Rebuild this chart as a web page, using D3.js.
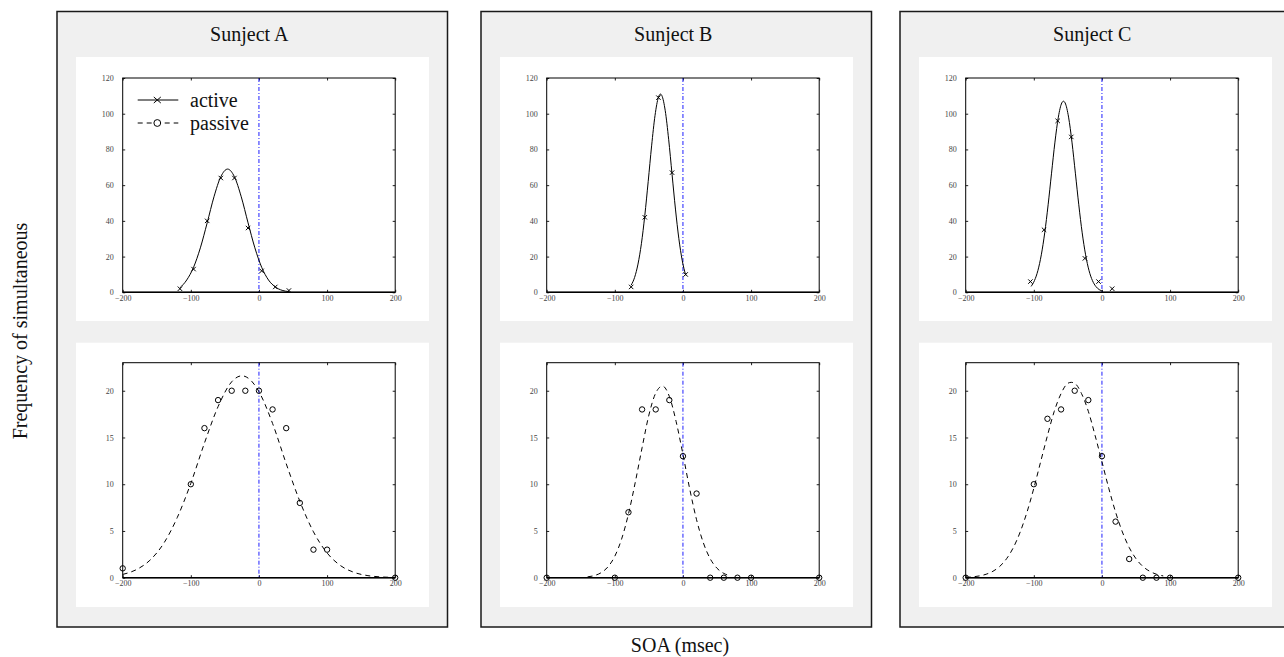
<!DOCTYPE html>
<html>
<head>
<meta charset="utf-8">
<script src="https://cdn.jsdelivr.net/npm/d3@7"></script>
<style>
  body { margin: 0; background: #fff; }
  svg text { font-family: "Liberation Serif", "Times New Roman", serif; }
</style>
</head>
<body>
<svg id="chart" width="1284" height="657"></svg>
<script>
var subjects = ['Sunject A', 'Sunject B', 'Sunject C'];
var soaTicks = [-200, -100, 0, 100, 200];
var activeTicks = [0, 20, 40, 60, 80, 100, 120];
var passiveTicks = [0, 5, 10, 15, 20];

// active condition, measured points (x marks)
var activeSoaA = [-116, -96, -76, -56, -36, -16, 4, 24, 44];
var activeFreqA = [2, 13, 40, 64, 64, 36, 12, 3, 1];
var activeSoaB = [-76, -56, -36, -16, 4];
var activeFreqB = [3, 42, 109, 67, 10];
var activeSoaC = [-105, -85, -65, -45, -25, -5, 15];
var activeFreqC = [6, 35, 96, 87, 19, 6, 2];

// active condition, fitted curve
var activeFitXA = [-116, -106, -96, -86, -76, -66, -56, -46, -36, -26, -16, -6, 4, 14, 24, 34, 44];
var activeFitYA = [2.5, 6.9, 14.0, 24.9, 38.9, 53.5, 64.7, 69, 64.7, 53.5, 38.9, 24.9, 14.0, 6.9, 3.0, 1.1, 0.4];
var activeFitXB = [-76, -71, -66, -61, -56, -51, -46, -41, -36, -33, -31, -26, -21, -16, -11, -6, -1, 4];
var activeFitYB = [4.0, 8.3, 15.8, 27.2, 43.0, 62.1, 82.0, 99.0, 109.2, 111, 110.2, 101.7, 85.7, 66.1, 46.6, 30.0, 17.7, 9.6];
var activeFitXC = [-104, -99, -94, -89, -84, -79, -74, -69, -64, -59, -56.5, -54, -49, -44, -39, -34, -29, -24, -19, -14, -9, -4, 1];
var activeFitYC = [3.3, 6.6, 12.2, 21.0, 33.3, 49.0, 66.7, 84.1, 98.1, 106.0, 107, 106.0, 98.1, 84.1, 66.7, 49.0, 33.3, 21.0, 12.2, 6.6, 3.3, 1.5, 0.65];

// passive condition, measured points (circles)
var passiveSoa = [-200, -100, -80, -60, -40, -20, 0, 20, 40, 60, 80, 100, 200];
var passiveFreqA = [1, 10, 16, 19, 20, 20, 20, 18, 16, 8, 3, 3, 0];
var passiveFreqB = [0, 0, 7, 18, 18, 19, 13, 9, 0, 0, 0, 0, 0];
var passiveFreqC = [0, 10, 17, 18, 20, 19, 13, 6, 2, 0, 0, 0, 0];

// passive condition, fitted curve
var passiveFitXA = [-200, -180, -160, -140, -120, -100, -80, -60, -40, -25, -10, 0, 20, 40, 60, 80, 100, 120, 140, 160, 180, 200];
var passiveFitYA = [0.35, 0.86, 1.87, 3.65, 6.42, 10.1, 14.4, 18.3, 20.96, 21.6, 20.96, 19.9, 16.5, 12.2, 8.18, 4.91, 2.65, 1.28, 0.56, 0.22, 0.08, 0.03];
var passiveFitXB = [-140, -130, -120, -110, -100, -90, -80, -70, -60, -50, -40, -30, -20, -10, 0, 10, 20, 30, 40, 50, 60, 70];
var passiveFitYB = [0.09, 0.23, 0.54, 1.17, 2.30, 4.15, 6.81, 10.2, 13.9, 17.4, 19.75, 20.5, 19.4, 16.7, 13.2, 9.47, 6.2, 3.72, 2.03, 1.01, 0.46, 0.19];
var passiveFitXC = [-200, -190, -180, -170, -160, -150, -140, -130, -120, -110, -100, -90, -80, -70, -60, -50, -45, -40, -30, -20, -10, 0, 10, 20, 30, 40, 50, 60, 70, 80, 90];
var passiveFitYC = [0.04, 0.09, 0.19, 0.37, 0.69, 1.21, 2.03, 3.23, 4.89, 7.02, 9.57, 12.4, 15.2, 17.8, 19.7, 20.8, 20.9, 20.8, 19.7, 17.8, 15.2, 12.4, 9.57, 7.02, 4.89, 3.23, 2.03, 1.21, 0.69, 0.37, 0.19];

var activeSoa = [activeSoaA, activeSoaB, activeSoaC];
var activeFreq = [activeFreqA, activeFreqB, activeFreqC];
var activeFitX = [activeFitXA, activeFitXB, activeFitXC];
var activeFitY = [activeFitYA, activeFitYB, activeFitYC];
var passiveFreq = [passiveFreqA, passiveFreqB, passiveFreqC];
var passiveFitX = [passiveFitXA, passiveFitXB, passiveFitXC];
var passiveFitY = [passiveFitYA, passiveFitYB, passiveFitYC];

//-------------------------------
// Layout

var svg = d3.select('#chart');
var panelX = [57, 481, 900];
var panelY = 11.5, panelW = 390.5, panelH = 615.5;
var boxDx = 19, boxW = 353;
var plotDx = 65.7, plotW = 272.5;
var rows = [
  { boxY: 57, boxH: 264, plotY: 78, plotH: 214.3 },
  { boxY: 342.7, boxH: 264.3, plotY: 362.7, plotH: 215 }
];

var tickFont = '"Liberation Sans", Arial, sans-serif';

function drawPlot(g, cfg) {
  var x = d3.scaleLinear().domain([-200, 200]).range([cfg.x0, cfg.x0 + plotW]);
  var y = d3.scaleLinear().domain([0, cfg.yMax]).range([cfg.y0 + cfg.h, cfg.y0]);

  // axes, ticks pointing inward on all four sides
  var bottom = g.append('g').attr('transform', 'translate(0,' + (cfg.y0 + cfg.h) + ')')
    .call(d3.axisBottom(x).tickValues(soaTicks).tickSizeInner(-2.5).tickSizeOuter(0).tickPadding(3));
  var left = g.append('g').attr('transform', 'translate(' + cfg.x0 + ',0)')
    .call(d3.axisLeft(y).tickValues(cfg.yTicks).tickSizeInner(-2.5).tickSizeOuter(0).tickPadding(9));
  g.append('g').attr('transform', 'translate(0,' + cfg.y0 + ')')
    .call(d3.axisTop(x).tickValues(soaTicks).tickSizeInner(-2.5).tickSizeOuter(0).tickFormat(''));
  g.append('g').attr('transform', 'translate(' + (cfg.x0 + plotW) + ',0)')
    .call(d3.axisRight(y).tickValues(cfg.yTicks).tickSizeInner(-2.5).tickSizeOuter(0).tickFormat(''));

  g.selectAll('.domain').remove();
  g.selectAll('.tick line').attr('stroke', '#222');
  [bottom, left].forEach(function (a) {
    a.attr('font-family', tickFont).attr('font-size', 8);
    a.selectAll('text').attr('fill', '#444');
  });

  // SOA = 0 reference
  g.append('line')
    .attr('x1', x(0)).attr('x2', x(0))
    .attr('y1', cfg.y0).attr('y2', cfg.y0 + cfg.h)
    .attr('stroke', '#1f1fff').attr('stroke-width', 1)
    .attr('stroke-dasharray', '4,2,1,2');

  // fitted curve
  var fit = cfg.fitX.map(function (v, i) { return [v, cfg.fitY[i]]; });
  g.append('path')
    .datum(fit)
    .attr('fill', 'none')
    .attr('stroke', '#000')
    .attr('stroke-width', 1)
    .attr('stroke-dasharray', cfg.dashed ? '5,4' : null)
    .attr('d', d3.line()
      .x(function (d) { return x(d[0]); })
      .y(function (d) { return y(d[1]); })
      .curve(d3.curveMonotoneX));

  // measured points
  var pts = cfg.soa.map(function (v, i) { return [v, cfg.freq[i]]; });
  if (cfg.marker === 'x') {
    g.selectAll('.xmark').data(pts).enter().append('path')
      .attr('class', 'xmark')
      .attr('transform', function (d) { return 'translate(' + x(d[0]) + ',' + y(d[1]) + ')'; })
      .attr('d', 'M-2.2,-2.2L2.2,2.2M-2.2,2.2L2.2,-2.2')
      .attr('stroke', '#000').attr('stroke-width', 1).attr('fill', 'none');
  } else {
    g.selectAll('.omark').data(pts).enter().append('circle')
      .attr('class', 'omark')
      .attr('cx', function (d) { return x(d[0]); })
      .attr('cy', function (d) { return y(d[1]); })
      .attr('r', 2.7)
      .attr('stroke', '#000').attr('stroke-width', 1).attr('fill', 'none');
  }

  // frame
  g.append('rect')
    .attr('x', cfg.x0).attr('y', cfg.y0).attr('width', plotW).attr('height', cfg.h)
    .attr('fill', 'none').attr('stroke', '#000').attr('stroke-width', 1);
  g.append('line')
    .attr('x1', cfg.x0).attr('x2', cfg.x0 + plotW)
    .attr('y1', cfg.y0 + cfg.h).attr('y2', cfg.y0 + cfg.h)
    .attr('stroke', '#000').attr('stroke-width', 1.6);
}

subjects.forEach(function (name, k) {
  var px = panelX[k];
  var p = svg.append('g').attr('class', 'panel');

  p.append('rect')
    .attr('x', px).attr('y', panelY).attr('width', panelW).attr('height', panelH)
    .attr('fill', '#f0f0f0').attr('stroke', '#1a1a1a').attr('stroke-width', 1.5);

  p.append('text')
    .attr('x', px + panelW / 2 - 3).attr('y', 41)
    .attr('text-anchor', 'middle').attr('font-size', 20).attr('fill', '#111')
    .text(name);

  rows.forEach(function (r) {
    p.append('rect')
      .attr('x', px + boxDx).attr('y', r.boxY).attr('width', boxW).attr('height', r.boxH)
      .attr('fill', '#fff');
  });

  drawPlot(p.append('g'), {
    x0: px + plotDx, y0: rows[0].plotY, h: rows[0].plotH,
    yMax: 120, yTicks: activeTicks,
    soa: activeSoa[k], freq: activeFreq[k],
    fitX: activeFitX[k], fitY: activeFitY[k],
    marker: 'x', dashed: false
  });

  drawPlot(p.append('g'), {
    x0: px + plotDx, y0: rows[1].plotY, h: rows[1].plotH,
    yMax: 23, yTicks: passiveTicks,
    soa: passiveSoa, freq: passiveFreq[k],
    fitX: passiveFitX[k], fitY: passiveFitY[k],
    marker: 'o', dashed: true
  });
});

//-------------------------------
// Legend (first panel only)

var legend = svg.append('g').attr('class', 'legend');
var legendRows = [
  { label: 'active', y: 100, marker: 'x', dashed: false },
  { label: 'passive', y: 123, marker: 'o', dashed: true }
];
legendRows.forEach(function (d) {
  legend.append('line')
    .attr('x1', 137.7).attr('x2', 178.3).attr('y1', d.y).attr('y2', d.y)
    .attr('stroke', '#000').attr('stroke-width', 1)
    .attr('stroke-dasharray', d.dashed ? '5,4' : null);
  if (d.marker === 'x') {
    legend.append('path')
      .attr('transform', 'translate(157.3,' + d.y + ')')
      .attr('d', 'M-3.5,-3L3.5,3M-3.5,3L3.5,-3')
      .attr('stroke', '#000').attr('stroke-width', 1).attr('fill', 'none');
  } else {
    legend.append('circle')
      .attr('cx', 157.3).attr('cy', d.y).attr('r', 3.4)
      .attr('stroke', '#000').attr('stroke-width', 1).attr('fill', '#fff');
  }
  legend.append('text')
    .attr('x', 190).attr('y', d.y + 7)
    .attr('font-size', 20).attr('fill', '#111')
    .text(d.label);
});

//-------------------------------
// Shared axis titles

svg.append('text')
  .attr('transform', 'translate(27,331) rotate(-90)')
  .attr('text-anchor', 'middle').attr('font-size', 20).attr('fill', '#111')
  .text('Frequency of simultaneous');

svg.append('text')
  .attr('x', 680).attr('y', 652)
  .attr('text-anchor', 'middle').attr('font-size', 20).attr('fill', '#111')
  .text('SOA (msec)');
</script>
</body>
</html>
